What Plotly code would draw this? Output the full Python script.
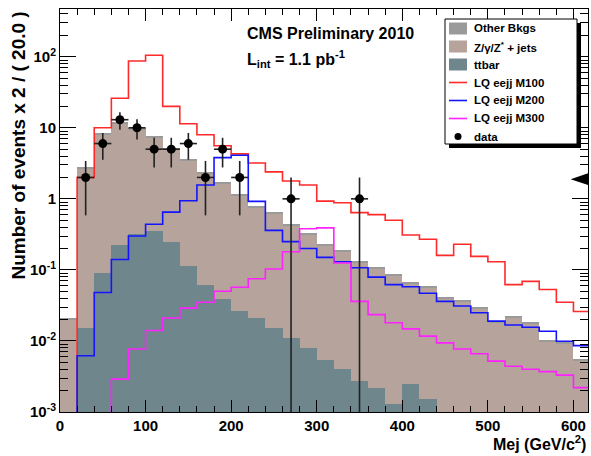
import plotly.graph_objects as go
import math

# ---------------- data ----------------
bin_edges = list(range(0, 640, 20))          # 0 ... 620 (31 bins of 20 GeV)
bin_centers = [e + 10 for e in bin_edges[:-1]]

ttbar = [0, 0.015, 0.09, 0.225, 0.32, 0.35, 0.25, 0.115, 0.062, 0.039, 0.026,
         0.021, 0.015, 0.011, 0.008, 0.0054, 0.004, 0.0027, 0.0022, 0.0013, 0.0025,
         0.0015, 0, 0, 0, 0, 0, 0, 0, 0, 0]
zjets = [0.0203, 2.685, 8.01, 11.18, 9.23, 6.89, 4.67, 3.355, 2.203, 1.581, 1.084,
         0.731, 0.612, 0.413, 0.31, 0.2166, 0.1793, 0.1227, 0.103, 0.0817, 0.0612,
         0.0545, 0.0396, 0.0357, 0.029, 0.018, 0.0212, 0.0174, 0.0097, 0.0093, 0.0053]
other = [0.0007, 0.1, 0.3, 0.4, 0.35, 0.26, 0.18, 0.13, 0.085, 0.06, 0.04,
         0.028, 0.023, 0.016, 0.012, 0.008, 0.0067, 0.0046, 0.0038, 0.003, 0.0023,
         0.002, 0.0014, 0.0013, 0.001, 0.00065, 0.0008, 0.00063, 0.00035, 0.00034, 0.0002]

lq_m100 = [0, 2.0, 10, 26, 87, 105, 20, 11.4, 8.0, 5.6, 4.3,
           3.2, 2.4, 1.78, 1.57, 0.93, 0.88, 0.64, 0.60, 0.50, 0.31,
           0.27, 0.16, 0.23, 0.155, 0.13, 0.062, 0.069, 0.053, 0.035, 0.026]
lq_m200 = [0, 0.0062, 0.048, 0.14, 0.30, 0.44, 0.65, 0.94, 1.57, 3.8, 4.1,
           0.92, 0.36, 0.25, 0.20, 0.15, 0.13, 0.107, 0.079, 0.062, 0.058,
           0.047, 0.036, 0.031, 0.025, 0.019, 0.0168, 0.0156, 0.0137, 0.0099, 0.0086]
lq_m300 = [0, 0, 0, 0.0029, 0.0077, 0.014, 0.021, 0.029, 0.035, 0.050, 0.057,
           0.075, 0.103, 0.18, 0.38, 0.39, 0.125, 0.036, 0.0235, 0.018, 0.0148,
           0.0117, 0.0094, 0.0077, 0.0066, 0.0052, 0.0044, 0.0040, 0.0037, 0.0033, 0.0022]

data_counts = [0, 2, 6, 13, 10, 5, 5, 6, 2, 5, 2,
               0, 0, 1, 0, 0, 0, 1, 0, 0, 0,
               0, 0, 0, 0, 0, 0, 0, 0, 0, 0]

y_tickvals = [1e-3, 1e-2, 1e-1, 1, 10, 100]
y_ticktext = ["10<sup>-3</sup>", "10<sup>-2</sup>", "10<sup>-1</sup>", "1", "10", "10<sup>2</sup>"]

legend_labels = ["Other Bkgs", "Z/γ/Z<sup>*</sup> + jets", "ttbar",
                 "LQ eejj M100", "LQ eejj M200", "LQ eejj M300", "data"]

# ---------------- styling ----------------
FONT = "Liberation Sans, Arial, Helvetica, sans-serif"
C_OTHER = "#9a9a9a"
C_ZJETS = "#b5a39c"
C_TTBAR = "#6f868c"
C_M100 = "#ff2a2a"
C_M200 = "#1414ff"
C_M300 = "#ff22ff"
FLOOR = 1e-6   # zero bins drawn below the frame (as ROOT does)

# plot area in pixels (for placing decorations)
L, R, T, B = 60, 588, 9, 412


def px(x):
    return (x - L) / (R - L)


def py(y):
    return (B - y) / (B - T)


fig = go.Figure()

for vals, name, col in [(ttbar, legend_labels[2], C_TTBAR),
                        (zjets, legend_labels[1], C_ZJETS),
                        (other, legend_labels[0], C_OTHER)]:
    fig.add_trace(go.Bar(x=bin_centers, y=vals, width=20, name=name,
                         marker=dict(color=col, line=dict(width=0)),
                         showlegend=False))


def step_y(vals):
    v = [x if x > 0 else FLOOR for x in vals]
    return v + [v[-1]]


for vals, name, col in [(lq_m100, legend_labels[3], C_M100),
                        (lq_m200, legend_labels[4], C_M200),
                        (lq_m300, legend_labels[5], C_M300)]:
    fig.add_trace(go.Scatter(x=bin_edges, y=step_y(vals), mode="lines", name=name,
                             line=dict(color=col, width=1.6, shape="hv"),
                             showlegend=False))

dx, dy, eup, edn = [], [], [], []
for c, n in zip(bin_centers, data_counts):
    if n > 0:
        dx.append(c)
        dy.append(n)
        e = math.sqrt(n)
        eup.append(e)
        edn.append(min(e, n * 0.999999))

fig.add_trace(go.Scatter(x=dx, y=dy, mode="markers", name="data",
                         marker=dict(color="black", size=9, symbol="circle"),
                         error_y=dict(type="data", array=eup, arrayminus=edn,
                                      color="#222222", thickness=1.6, width=0),
                         error_x=dict(type="constant", value=10,
                                      color="#222222", thickness=1.6, width=0),
                         showlegend=False))

minor_y = [k * 10 ** e for e in range(-3, 3) for k in range(2, 10)]

fig.update_layout(
    width=591, height=456,
    margin=dict(l=L, r=591 - R, t=T, b=456 - B),
    paper_bgcolor="white", plot_bgcolor="white",
    barmode="stack", bargap=0,
    font=dict(family=FONT, size=15, color="black", weight="bold"),
    showlegend=False,
    xaxis=dict(range=[0, 617], showline=True, linecolor="black", linewidth=1,
               mirror="allticks", ticks="inside", ticklen=12, tickwidth=1,
               tickcolor="black", tick0=0, dtick=100, showgrid=False, zeroline=False,
               tickfont=dict(size=15, family=FONT, weight="bold"),
               minor=dict(dtick=20, tick0=0, ticks="inside", ticklen=6,
                          tickcolor="black", showgrid=False)),
    yaxis=dict(type="log", range=[-3, 2.672], showline=True, linecolor="black",
               linewidth=1, mirror="allticks", ticks="inside", ticklen=16,
               tickwidth=1, tickcolor="black", tickmode="array",
               tickvals=y_tickvals, ticktext=y_ticktext, showgrid=False,
               zeroline=False, tickfont=dict(size=15, family=FONT, weight="bold"),
               minor=dict(tickmode="array", tickvals=minor_y, ticks="inside",
                          ticklen=8, tickcolor="black", showgrid=False)),
)

# ---------------- legend (ROOT-style box with shadow) ----------------
LX0, LX1, LY0, LY1 = 445, 577, 19, 144
fig.add_shape(type="rect", xref="paper", yref="paper", layer="above",
              x0=px(LX0 + 4), x1=px(LX1 + 4), y0=py(LY1 + 4), y1=py(LY0 + 4),
              fillcolor="black", line=dict(width=0))
fig.add_shape(type="rect", xref="paper", yref="paper", layer="above",
              x0=px(LX0), x1=px(LX1), y0=py(LY1), y1=py(LY0),
              fillcolor="white", line=dict(color="black", width=1))

row_y = [28.5 + 18 * i for i in range(7)]
sym_x0, sym_x1 = 449, 467
for i, (lab, col) in enumerate(zip(legend_labels,
                                   [C_OTHER, C_ZJETS, C_TTBAR, C_M100, C_M200, C_M300, "black"])):
    yc = row_y[i]
    if i < 3:
        fig.add_shape(type="rect", xref="paper", yref="paper", layer="above",
                      x0=px(sym_x0), x1=px(sym_x1), y0=py(yc + 6), y1=py(yc - 6),
                      fillcolor=col, line=dict(width=0))
    elif i < 6:
        fig.add_shape(type="line", xref="paper", yref="paper", layer="above",
                      x0=px(sym_x0), x1=px(sym_x1), y0=py(yc), y1=py(yc),
                      line=dict(color=col, width=1.6))
    else:
        fig.add_shape(type="circle", xref="paper", yref="paper", layer="above",
                      x0=px(458 - 3.5), x1=px(458 + 3.5), y0=py(yc + 3.5), y1=py(yc - 3.5),
                      fillcolor="black", line=dict(width=0))
    fig.add_annotation(text=lab, xref="paper", yref="paper", x=px(472), y=py(yc),
                       xanchor="left", yanchor="middle", showarrow=False,
                       font=dict(size=11.5, family=FONT, weight="bold"))

# small marker triangle on the right edge
fig.add_shape(type="path", xref="paper", yref="paper", layer="above",
              path="M %.4f %.4f L 1 %.4f L 1 %.4f Z" % (px(570.7), py(179.3), py(173.3), py(185)),
              fillcolor="black", line=dict(width=0))

fig.add_annotation(text="CMS Preliminary 2010", xref="paper", yref="paper",
                   x=px(245), y=py(33), xanchor="left", yanchor="middle",
                   showarrow=False, font=dict(size=16, family=FONT, weight="bold"))
fig.add_annotation(text="L<sub>int</sub> = 1.1 pb<sup>-1</sup>", xref="paper", yref="paper",
                   x=px(245), y=py(59), xanchor="left", yanchor="middle",
                   showarrow=False, font=dict(size=16, family=FONT, weight="bold"))
fig.add_annotation(text="Number of events x 2 / ( 20.0 )", xref="paper", yref="paper",
                   x=px(17.5), y=py(10), xanchor="center", yanchor="top",
                   textangle=-90, showarrow=False,
                   font=dict(size=19, family=FONT, weight="bold"))
fig.add_annotation(text="Mej (GeV/c<sup>2</sup>)", xref="paper", yref="paper",
                   x=1.0, y=py(443), xanchor="right", yanchor="middle",
                   showarrow=False, font=dict(size=16, family=FONT, weight="bold"))

fig.write_html("out.html")
